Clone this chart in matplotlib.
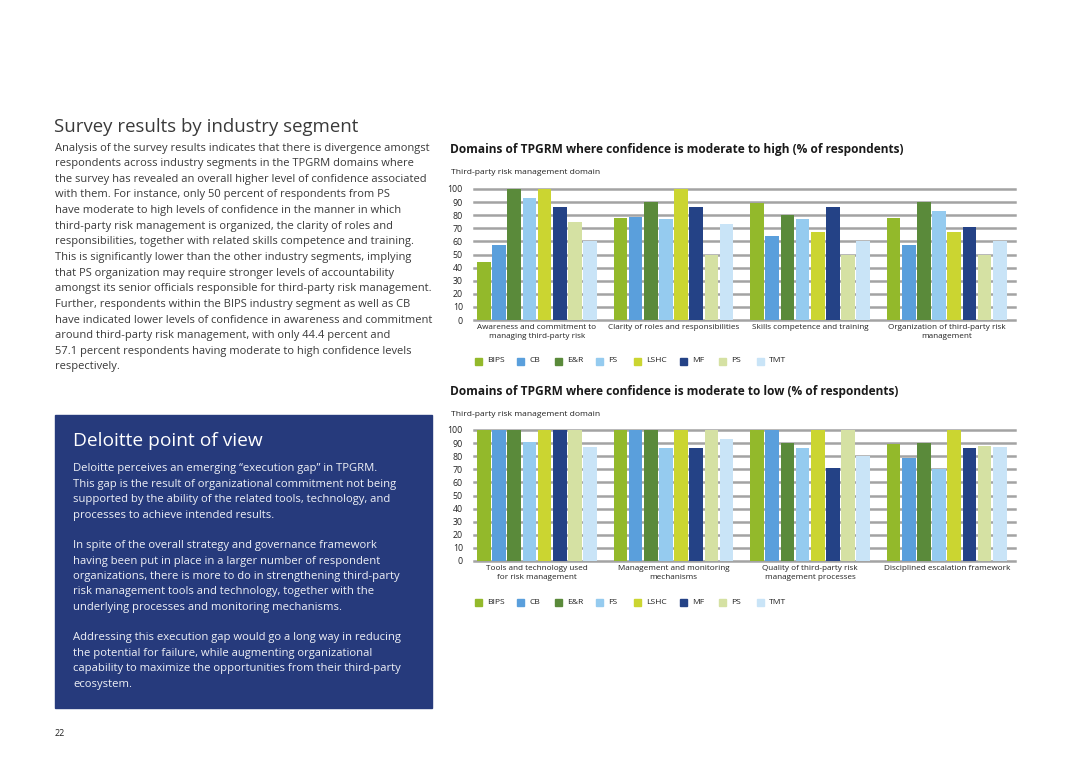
import numpy as np
import matplotlib.pyplot as plt
from matplotlib.patches import Rectangle

W, H = 1080, 763

segments = ['BIPS', 'CB', 'E&R', 'FS', 'LSHC', 'MF', 'PS', 'TMT']
colors = ['#93b92b', '#5a9fdc', '#5a8a3a', '#95cbef',
          '#cbd531', '#244286', '#d5e1a3', '#c9e4f7']

# moderate to high confidence (% of respondents)
high_domains = ['Awareness and commitment to\nmanaging third-party risk',
                'Clarity of roles and responsibilities',
                'Skills competence and training',
                'Organization of third-party risk\nmanagement']
high_values = [
    [44.4, 57.1, 100, 93, 100, 86, 75, 60],
    [78, 79, 90, 77, 100, 86, 50, 73],
    [89, 64, 80, 77, 67, 86, 50, 60],
    [78, 57, 90, 83, 67, 71, 50, 60],
]

# moderate to low confidence (% of respondents)
low_domains = ['Tools and technology used\nfor risk management',
               'Management and monitoring\nmechanisms',
               'Quality of third-party risk\nmanagement processes',
               'Disciplined escalation framework']
low_values = [
    [100, 100, 100, 91, 100, 100, 100, 87],
    [100, 100, 100, 86, 100, 86, 100, 93],
    [100, 100, 90, 86, 100, 71, 100, 80],
    [89, 79, 90, 70, 100, 86, 88, 87],
]

yticks = list(range(0, 101, 10))

left_text = [
    "Analysis of the survey results indicates that there is divergence amongst",
    "respondents across industry segments in the TPGRM domains where",
    "the survey has revealed an overall higher level of confidence associated",
    "with them. For instance, only 50 percent of respondents from PS",
    "have moderate to high levels of confidence in the manner in which",
    "third-party risk management is organized, the clarity of roles and",
    "responsibilities, together with related skills competence and training.",
    "This is significantly lower than the other industry segments, implying",
    "that PS organization may require stronger levels of accountability",
    "amongst its senior officials responsible for third-party risk management.",
    "Further, respondents within the BIPS industry segment as well as CB",
    "have indicated lower levels of confidence in awareness and commitment",
    "around third-party risk management, with only 44.4 percent and",
    "57.1 percent respondents having moderate to high confidence levels",
    "respectively.",
]

box_text = [
    "Deloitte perceives an emerging \u201cexecution gap\u201d in TPGRM.",
    "This gap is the result of organizational commitment not being",
    "supported by the ability of the related tools, technology, and",
    "processes to achieve intended results.",
    "",
    "In spite of the overall strategy and governance framework",
    "having been put in place in a larger number of respondent",
    "organizations, there is more to do in strengthening third-party",
    "risk management tools and technology, together with the",
    "underlying processes and monitoring mechanisms.",
    "",
    "Addressing this execution gap would go a long way in reducing",
    "the potential for failure, while augmenting organizational",
    "capability to maximize the opportunities from their third-party",
    "ecosystem.",
]

plt.rcParams['font.family'] = ['Open Sans', 'DejaVu Sans']

fig = plt.figure(figsize=(W / 100, H / 100), dpi=100)


def fx(px):
    return px / W


def fy(py):
    return 1 - py / H


def bar_chart(top, bottom, values, domains, title, title_y, legend_y):
    ax = fig.add_axes([fx(474), fy(bottom), fx(1015 - 474), (bottom - top) / H])
    n = len(segments)
    for g, vals in enumerate(values):
        x = g * (n + 1) + np.arange(n) + 0.5
        ax.bar(x, vals, width=0.9, color=colors, edgecolor='none', zorder=3)
    for t in yticks:
        ax.axhline(t, color='#a3a3a3', lw=1.8, zorder=1, clip_on=False)
    ax.set_xlim(-0.15, 4 * (n + 1) - 0.5)
    ax.set_ylim(0, 100)
    ax.set_yticks(yticks)
    ax.set_yticklabels([str(t) for t in yticks], fontsize=6.3, color='#222222')
    ax.tick_params(axis='y', length=0, pad=8)
    centers = [g * (n + 1) + n / 2 for g in range(len(domains))]
    ax.set_xticks(centers)
    ax.set_xticklabels(domains, fontsize=5.9, color='#222222', linespacing=1.3)
    ax.tick_params(axis='x', length=0, pad=3)
    for s in ax.spines.values():
        s.set_visible(False)
    fig.text(fx(450), fy(title_y), title, fontsize=8.6, fontweight='bold',
             color='#1a1a1a', va='center')
    fig.text(fx(451), fy(title_y + 24), 'Third-party risk management domain',
             fontsize=6.1, color='#222222', va='center')
    # legend
    lx = [475, 517, 555, 596, 634, 680, 719, 757]
    for i, (name, c) in enumerate(zip(segments, colors)):
        fig.patches.append(Rectangle((fx(lx[i]), fy(legend_y + 4)), fx(7), 7 / H,
                                     transform=fig.transFigure, color=c))
        fig.text(fx(lx[i] + 12), fy(legend_y), name, fontsize=6.1,
                 color='#222222', va='center')
    return ax


bar_chart(189, 320, high_values, high_domains,
          'Domains of TPGRM where confidence is moderate to high (% of respondents)',
          149, 361)
bar_chart(430, 561, low_values, low_domains,
          'Domains of TPGRM where confidence is moderate to low (% of respondents)',
          391, 602)

# left column
fig.text(fx(54), fy(127), 'Survey results by industry segment', fontsize=13.4,
         color='#3a3a3a', va='center')
for i, line in enumerate(left_text):
    fig.text(fx(55), fy(148 + i * 15.64), line, fontsize=8.0, color='#3a3a3a',
             va='center')

# blue box
fig.patches.append(Rectangle((fx(55), fy(708)), fx(432 - 55), (708 - 415) / H,
                             transform=fig.transFigure, color='#263a7c'))
fig.text(fx(73), fy(441), 'Deloitte point of view', fontsize=13.8, color='white',
         va='center')
for i, line in enumerate(box_text):
    fig.text(fx(73), fy(469 + i * 15.36), line, fontsize=8.1, color='#eef0f6',
             va='center')

fig.text(fx(55), fy(733), '22', fontsize=6.5, color='#222222', va='center')

fig.savefig('out.png', dpi=100)
